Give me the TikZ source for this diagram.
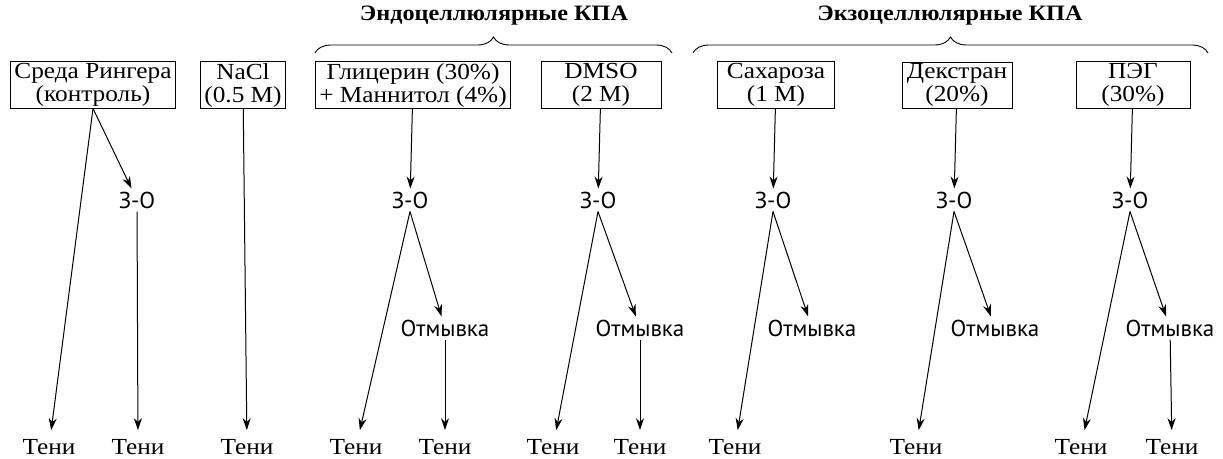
\documentclass[tikz,border=0pt]{standalone}
\usepackage{fontspec}
\setmainfont{Liberation Serif}[FakeStretch=1.1]
\newfontfamily\stagefont{PT Sans}
\usetikzlibrary{arrows.meta, decorations.pathreplacing}

\begin{document}
\begin{tikzpicture}[
    x=1pt, y=-1pt,
    box/.style={rectangle, draw, line width=0.9pt, align=center, inner xsep=4pt, inner ysep=1.5pt, font=\fontsize{23}{23}\selectfont},
    stage/.style={font=\stagefont\fontsize{23}{23}\selectfont, inner sep=3pt},
    outcome/.style={font=\fontsize{23}{23}\selectfont, inner sep=9pt},
    group/.style={font=\fontsize{22}{22}\selectfont\bfseries},
    arr/.style={-{Stealth[length=12pt,width=8pt]}, line width=1pt},
    curly/.style={decorate, decoration={brace, amplitude=16pt}, line width=0.9pt}
]
\useasboundingbox (0,0) rectangle (1223,458);
\node[group] (endo) at (494,16) {Эндоцеллюлярные КПА};
\node[group] (exo) at (950,16) {Экзоцеллюлярные КПА};
\coordinate (endoL) at (315,53);
\coordinate (endoR) at (672,53);
\coordinate (exoL) at (693,53);
\coordinate (exoR) at (1208,53);
\draw[curly] (endoL) -- (endoR);
\draw[curly] (exoL) -- (exoR);
\node[box] (ringer) at (93,85) {Среда Рингера\\(контроль)};
\node[box] (nacl) at (243,85) {NaCl\\(0.5 M)};
\node[box] (glyc) at (413,85) {Глицерин (30\%)\\+ Маннитол (4\%)};
\node[box, minimum width=120pt] (dmso) at (601,85) {DMSO\\(2 M)};
\node[box, minimum width=117pt] (sucr) at (776,85) {Сахароза\\(1 M)};
\node[box, minimum width=110pt] (dext) at (957,85) {Декстран\\(20\%)};
\node[box, minimum width=114pt] (peg) at (1133,85) {ПЭГ\\(30\%)};
\node[stage] (zoRinger) at (137,200) {З-О};
\node[stage] (zoGlyc) at (410,200) {З-О};
\node[stage] (zoDmso) at (598,200) {З-О};
\node[stage] (zoSucr) at (773,200) {З-О};
\node[stage] (zoDext) at (954,200) {З-О};
\node[stage] (zoPeg) at (1130,200) {З-О};
\node[stage] (washGlyc) at (445,328) {Отмывка};
\node[stage] (washDmso) at (640,328) {Отмывка};
\node[stage] (washSucr) at (812,328) {Отмывка};
\node[stage] (washDext) at (995,328) {Отмывка};
\node[stage] (washPeg) at (1170,328) {Отмывка};
\node[outcome] (tRingerA) at (49,447) {Тени};
\node[outcome] (tRingerB) at (138,447) {Тени};
\node[outcome] (tNacl) at (247,447) {Тени};
\node[outcome] (tGlycA) at (356,447) {Тени};
\node[outcome] (tGlycB) at (445,447) {Тени};
\node[outcome] (tDmsoA) at (553,447) {Тени};
\node[outcome] (tDmsoB) at (640,447) {Тени};
\node[outcome] (tSucr) at (735,447) {Тени};
\node[outcome] (tDext) at (916,447) {Тени};
\node[outcome] (tPegA) at (1081,447) {Тени};
\node[outcome] (tPegB) at (1172,447) {Тени};
\draw[arr] (ringer.south) -- (tRingerA);
\draw[arr] (ringer.south) -- (zoRinger);
\draw[arr] (zoRinger) -- (tRingerB);
\draw[arr] (nacl) -- (tNacl);
\draw[arr] (glyc) -- (zoGlyc);
\draw[arr] (zoGlyc.south) -- (tGlycA);
\draw[arr] (zoGlyc.south) -- (washGlyc);
\draw[arr] (washGlyc) -- (tGlycB);
\draw[arr] (dmso) -- (zoDmso);
\draw[arr] (zoDmso.south) -- (tDmsoA);
\draw[arr] (zoDmso.south) -- (washDmso);
\draw[arr] (washDmso) -- (tDmsoB);
\draw[arr] (sucr) -- (zoSucr);
\draw[arr] (zoSucr.south) -- (tSucr);
\draw[arr] (zoSucr.south) -- (washSucr);
\draw[arr] (dext) -- (zoDext);
\draw[arr] (zoDext.south) -- (tDext);
\draw[arr] (zoDext.south) -- (washDext);
\draw[arr] (peg) -- (zoPeg);
\draw[arr] (zoPeg.south) -- (tPegA);
\draw[arr] (zoPeg.south) -- (washPeg);
\draw[arr] (washPeg) -- (tPegB);
\end{tikzpicture}
\end{document}
